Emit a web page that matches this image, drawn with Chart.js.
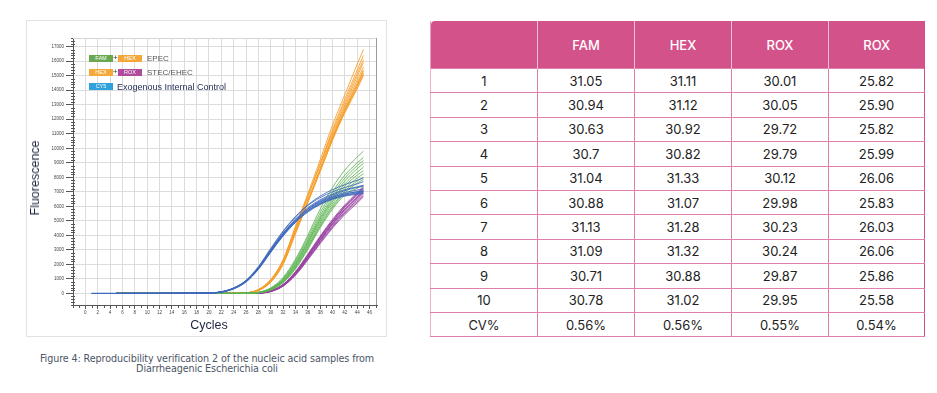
<!DOCTYPE html>
<html>
<head>
<meta charset="utf-8">
<script src="https://cdn.jsdelivr.net/npm/chart.js@4.4.1/dist/chart.umd.min.js"></script>
<style>
  body { margin: 0; background: #fff; width: 937px; height: 393px; position: relative; overflow: hidden; font-family: "Liberation Sans", Arial, sans-serif; }
  #panel { position: absolute; left: 26px; top: 20px; width: 361px; height: 317px; border: 1px solid #e2e2e2; box-sizing: border-box; }
  #panel canvas { position: absolute; left: 0; top: 0; }
  .ytitle { position: absolute; left: 35px; top: 178px; transform: translate(-50%, -50%) rotate(-90deg); font-size: 12.5px; color: #1d2540; white-space: nowrap; }
  .xtitle { position: absolute; left: 209px; top: 325px; transform: translate(-50%, -50%); font-size: 12.5px; color: #1d2540; white-space: nowrap; }
  .lg { position: absolute; height: 7px; line-height: 7px; font-size: 5.5px; color: #fff; text-align: center; width: 24px; }
  .plus { position: absolute; font-size: 8px; color: #333; line-height: 8px; }
  .lgtext { position: absolute; font-size: 8px; color: #555; line-height: 8px; white-space: nowrap; }
  .caption { position: absolute; left: 7px; top: 354px; width: 400px; text-align: center; font-family: "DejaVu Sans", Verdana, sans-serif; font-size: 9.6px; line-height: 9.5px; color: #4c5566; letter-spacing: -0.1px; }
  table { position: absolute; left: 430px; top: 21px; width: 494px; border-collapse: collapse; font-family: Inter, "Noto Sans", sans-serif; font-size: 13px; table-layout: fixed; }
  th { background: #d4528a; color: #fff; font-weight: 500; height: 47px; border-left: 1px solid #f1bfd5; padding: 0; }
  th:first-child { border-left: 1px solid #e9a3c3; border-top-left-radius: 4px; }
  td { height: 23.4px; padding: 0; text-align: center; color: #222; border: 1px solid #e17fab; }
  td:first-child { border-left: 1px solid #eeb2cc; }
  td:last-child { border-right: 1.5px solid #d54f8b; }
</style>
</head>
<body>
<div id="panel"><canvas id="ampChart" width="359" height="315"></canvas></div>
<div class="ytitle">Fluorescence</div>
<div class="xtitle">Cycles</div>

<div class="lg" style="left:89px;top:55px;background:#6aa84f;">FAM</div>
<div class="plus" style="left:113px;top:54px;">+</div>
<div class="lg" style="left:118px;top:55px;background:#f5a83a;">HEX</div>
<div class="lgtext" style="left:147px;top:54.5px;">EPEC</div>
<div class="lg" style="left:89px;top:69px;background:#f5a83a;">HEX</div>
<div class="plus" style="left:113px;top:68px;">+</div>
<div class="lg" style="left:118px;top:69px;background:#b04a9d;">ROX</div>
<div class="lgtext" style="left:147px;top:68.5px;">STEC/EHEC</div>
<div class="lg" style="left:89px;top:83px;background:#2ea2da;">CY5</div>
<div class="lgtext" style="left:117px;top:82.5px;font-size:9px;color:#1c2a55;">Exogenous Internal Control</div>

<div class="caption">Figure 4: Reproducibility verification 2 of the nucleic acid samples from<br>Diarrheagenic Escherichia coli</div>

<table id="ctTable"></table>

<script>
const cycles = [1, 5, 20, 22, 24, 26, 28, 30, 32, 34, 36, 38, 40, 42, 44, 45];

const cy5Curves = [
    [0, 0, 25, 120, 380, 900, 1850, 3100, 4300, 5300, 6100, 6700, 7150, 7500, 7800, 7950],
    [0, 0, 20, 110, 370, 880, 1800, 3050, 4250, 5250, 6050, 6600, 7000, 7300, 7550, 7700],
    [0, 0, 20, 100, 350, 860, 1760, 2980, 4150, 5120, 5900, 6450, 6850, 7150, 7350, 7450],
    [null, 0, 15, 95, 340, 840, 1720, 2920, 4080, 5050, 5820, 6380, 6780, 7080, 7300, 7400],
    [null, 0, 20, 100, 350, 850, 1750, 2950, 4100, 5050, 5800, 6330, 6700, 6950, 7120, 7200],
    [null, 0, 15, 90, 330, 820, 1700, 2880, 4020, 4950, 5700, 6230, 6600, 6850, 7000, 7080],
    [null, 0, 20, 105, 360, 870, 1780, 2990, 4120, 5050, 5780, 6290, 6630, 6860, 7000, 7050],
    [null, 0, 15, 90, 320, 800, 1680, 2860, 3990, 4920, 5650, 6170, 6530, 6780, 6930, 7000],
    [null, 0, 20, 100, 340, 830, 1720, 2900, 4030, 4960, 5680, 6190, 6530, 6750, 6880, 6920],
    [null, 0, 15, 85, 310, 780, 1650, 2820, 3950, 4880, 5600, 6120, 6480, 6700, 6830, 6880]
];

const famCurves = [
    [null, 0, 0, 0, 0, 15, 80, 380, 1100, 2350, 4000, 5800, 7300, 8500, 9400, 9800],
    [null, 0, 0, 0, 0, 10, 70, 350, 1020, 2250, 3850, 5550, 7000, 8150, 9000, 9350],
    [null, 0, 0, 0, 0, 10, 65, 330, 980, 2150, 3700, 5350, 6800, 7950, 8800, 9150],
    [null, 0, 0, 0, 0, 10, 60, 310, 930, 2060, 3580, 5200, 6600, 7750, 8600, 8950],
    [null, 0, 0, 0, 0, 10, 60, 300, 900, 2000, 3500, 5100, 6450, 7550, 8350, 8700],
    [null, 0, 0, 0, 0, 10, 55, 290, 870, 1950, 3420, 4980, 6330, 7400, 8150, 8450],
    [null, 0, 0, 0, 0, 5, 50, 270, 830, 1870, 3300, 4850, 6180, 7220, 7950, 8250],
    [null, 0, 0, 0, 0, 5, 50, 260, 800, 1800, 3200, 4720, 6030, 7050, 7750, 8000],
    [null, 0, 0, 0, 0, 5, 45, 250, 780, 1750, 3120, 4620, 5920, 6950, 7600, 7850],
    [null, 0, 0, 0, 0, 5, 40, 230, 730, 1680, 3030, 4520, 5800, 6800, 7250, 7450]
];

const hexCurves = [
    [null, 0, 0, 0, 8, 40, 260, 940, 2300, 4600, 6850, 9200, 11600, 13700, 15800, 16800],
    [null, 0, 0, 0, 6, 35, 240, 900, 2220, 4450, 6650, 8950, 11300, 13400, 15400, 16400],
    [null, 0, 0, 0, 6, 35, 250, 920, 2260, 4500, 6700, 8900, 11150, 13200, 15150, 16100],
    [null, 0, 0, 0, 8, 40, 270, 960, 2320, 4550, 6700, 8850, 11000, 13000, 14950, 15900],
    [null, 0, 0, 0, 5, 25, 200, 800, 2050, 4200, 6350, 8600, 10850, 12850, 14700, 15600],
    [null, 0, 0, 0, 4, 22, 190, 770, 2000, 4100, 6250, 8450, 10700, 12700, 14500, 15400],
    [null, 0, 0, 0, 5, 28, 210, 830, 2100, 4250, 6350, 8500, 10650, 12600, 14300, 15200],
    [null, 0, 0, 0, 4, 24, 195, 790, 2030, 4150, 6250, 8400, 10550, 12500, 14200, 15100],
    [null, 0, 0, 0, 5, 28, 215, 840, 2120, 4250, 6330, 8450, 10600, 12450, 14100, 15000],
    [null, 0, 0, 0, 6, 30, 225, 860, 2150, 4300, 6400, 8550, 10750, 12650, 14400, 15300]
];

const roxCurves = [
    [null, 0, 0, 0, 0, 0, 25, 180, 620, 1500, 2700, 3950, 5100, 6100, 6950, 7400],
    [null, 0, 0, 0, 0, 0, 25, 170, 600, 1460, 2640, 3880, 5020, 6020, 6880, 7300],
    [null, 0, 0, 0, 0, 0, 20, 160, 580, 1420, 2570, 3790, 4920, 5920, 6760, 7180],
    [null, 0, 0, 0, 0, 0, 20, 155, 565, 1390, 2520, 3720, 4840, 5820, 6660, 7080],
    [null, 0, 0, 0, 0, 0, 20, 145, 545, 1350, 2460, 3640, 4750, 5720, 6540, 6960],
    [null, 0, 0, 0, 0, 0, 15, 135, 525, 1310, 2400, 3560, 4660, 5620, 6430, 6850],
    [null, 0, 0, 0, 0, 0, 15, 130, 510, 1280, 2350, 3490, 4580, 5530, 6330, 6750],
    [null, 0, 0, 0, 0, 0, 20, 150, 555, 1370, 2490, 3680, 4800, 5770, 6600, 7020],
    [null, 0, 0, 0, 0, 0, 15, 125, 495, 1250, 2300, 3430, 4500, 5440, 6230, 6650],
    [null, 0, 0, 0, 0, 0, 20, 165, 590, 1440, 2610, 3840, 4970, 5970, 6820, 7250]
];

const xTickValues = [0, 2, 4, 6, 8, 10, 12, 14, 16, 18, 20, 22, 24, 26, 28, 30, 32, 34, 36, 38, 40, 42, 44, 46];
const yTickValues = [0, 1000, 2000, 3000, 4000, 5000, 6000, 7000, 8000, 9000, 10000, 11000, 12000, 13000, 14000, 15000, 16000, 17000];

// table of Ct values
const runLabels = ['1', '2', '3', '4', '5', '6', '7', '8', '9', '10', 'CV%'];
const channelHeaders = ['FAM', 'HEX', 'ROX', 'ROX'];
const famCt = ['31.05', '30.94', '30.63', '30.7', '31.04', '30.88', '31.13', '31.09', '30.71', '30.78', '0.56%'];
const hexCt = ['31.11', '31.12', '30.92', '30.82', '31.33', '31.07', '31.28', '31.32', '30.88', '31.02', '0.56%'];
const roxCt = ['30.01', '30.05', '29.72', '29.79', '30.12', '29.98', '30.23', '30.24', '29.87', '29.95', '0.55%'];
const rox2Ct = ['25.82', '25.90', '25.82', '25.99', '26.06', '25.83', '26.03', '26.06', '25.86', '25.58', '0.54%'];

function toPoints(values) {
    return values.map((v, i) => ({ x: cycles[i], y: v }));
}

const datasets = [];
const groups = [
    { curves: cy5Curves, color: 'rgba(62,104,188,0.85)' },
    { curves: famCurves, color: 'rgba(92,180,80,0.85)' },
    { curves: hexCurves, color: 'rgba(246,160,45,0.9)' },
    { curves: roxCurves, color: 'rgba(150,62,160,0.85)' }
];
groups.forEach(g => {
    g.curves.forEach(c => {
        datasets.push({ data: toPoints(c), borderColor: g.color, borderWidth: 1, pointRadius: 0, fill: false, cubicInterpolationMode: 'monotone' });
    });
});

const minorTicks = {
    id: 'minorTicks',
    afterDraw(chart) {
        const { ctx, chartArea: a, scales: { x, y } } = chart;
        ctx.save();
        ctx.strokeStyle = '#555';
        ctx.lineWidth = 1;
        ctx.beginPath();
        for (let v = y.min; v <= y.max; v += 200) {
            if (v % 1000 === 0) continue;
            const py = Math.round(y.getPixelForValue(v)) + 0.5;
            ctx.moveTo(a.left - 2, py);
            ctx.lineTo(a.left + 2, py);
        }
        for (let c = Math.ceil(x.min); c <= x.max; c++) {
            if (c % 2 === 0 && c >= 0) continue;
            const px = Math.round(x.getPixelForValue(c)) + 0.5;
            ctx.moveTo(px, a.bottom);
            ctx.lineTo(px, a.bottom + 3);
        }
        ctx.stroke();
        // top and right frame
        ctx.strokeStyle = '#d6d6d6';
        ctx.beginPath();
        ctx.moveTo(a.left, a.top + 0.5);
        ctx.lineTo(a.right, a.top + 0.5);
        ctx.stroke();
        ctx.strokeStyle = '#9a9a9a';
        ctx.beginPath();
        ctx.moveTo(a.right - 0.5, a.top);
        ctx.lineTo(a.right - 0.5, a.bottom);
        ctx.stroke();
        ctx.restore();
    }
};

new Chart(document.getElementById('ampChart'), {
    type: 'line',
    data: { datasets: datasets },
    options: {
        responsive: false,
        animation: false,
        layout: { padding: { top: 17, right: 9, left: 0, bottom: 0 } },
        plugins: { legend: { display: false }, tooltip: { enabled: false } },
        scales: {
            x: {
                type: 'linear', min: -2, max: 47.2,
                afterBuildTicks: s => { s.ticks = xTickValues.map(v => ({ value: v })); },
                afterFit: s => { s.height = 31; },
                grid: { color: '#dcdcdc', tickColor: '#555', tickLength: 4 },
                border: { color: '#555' },
                ticks: { font: { size: 4.5, family: 'Liberation Sans' }, color: '#444', padding: 1, maxRotation: 0, autoSkip: false, callback: v => String(v) }
            },
            y: {
                type: 'linear', min: -800, max: 17600,
                afterBuildTicks: s => { s.ticks = yTickValues.map(v => ({ value: v })); },
                afterFit: s => { s.width = 46; },
                grid: { color: '#dcdcdc', tickColor: '#555', tickLength: 7 },
                border: { color: '#555' },
                ticks: { font: { size: 4.5, family: 'Liberation Sans' }, color: '#444', padding: 2, autoSkip: false, callback: v => String(v) }
            }
        }
    },
    plugins: [minorTicks]
});

// build the table
const cols = [famCt, hexCt, roxCt, rox2Ct];
let html = '<colgroup><col style="width:107px"><col style="width:97px"><col style="width:97px"><col style="width:97px"><col style="width:96px"></colgroup>';
html += '<tr><th></th>' + channelHeaders.map(h => `<th>${h}</th>`).join('') + '</tr>';
runLabels.forEach((lab, i) => {
    html += `<tr><td>${lab}</td>` + cols.map(c => `<td>${c[i]}</td>`).join('') + '</tr>';
});
document.getElementById('ctTable').innerHTML = html;
</script>
</body>
</html>
